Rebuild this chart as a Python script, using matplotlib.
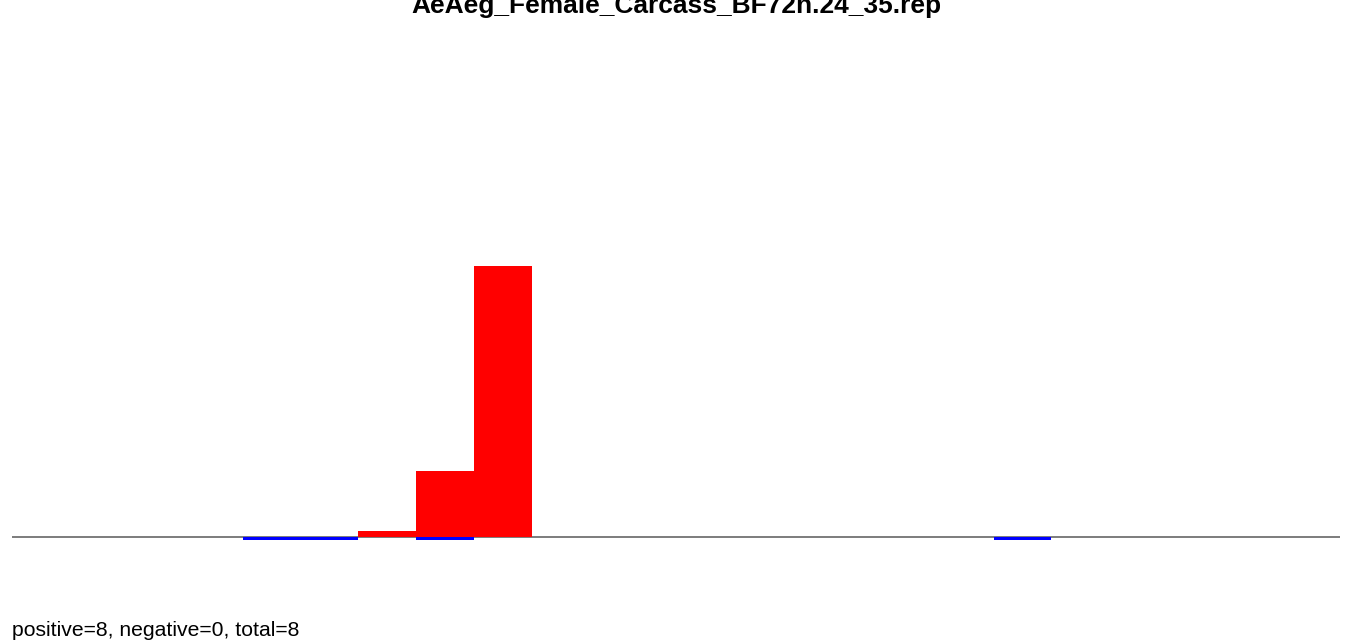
import matplotlib
matplotlib.use("Agg")
import matplotlib.pyplot as plt
import numpy as np

plt.rcParams['font.family'] = ['Liberation Sans', 'DejaVu Sans']

# histogram bins (23 bins along the axis)
n_bins = 23
pos_bins = [6, 7, 8]
pos_values = [0.022, 0.244, 1.0]
neg_bins = [4, 5, 7, 17]
neg_values = [-0.011, -0.011, -0.011, -0.011]

title = "AeAeg_Female_Carcass_BF72h.24_35.rep"
summary = "positive=8, negative=0, total=8"

W, H = 1349, 641
fig = plt.figure(figsize=(W / 100, H / 100), dpi=100)

# axes placed in pixel terms: x 12..1340, y 60..580 (top..bottom)
left, right, top, bottom = 12, 1340, 60, 580
ax = fig.add_axes([left / W, 1 - bottom / H, (right - left) / W, (bottom - top) / H])

scale = 271.0  # pixels per unit of value
base = 537
ax.set_xlim(0, n_bins)
ax.set_ylim(-(bottom - base) / scale, (base - top) / scale)

ax.axhline(0, color='#666666', lw=1.2, zorder=1)
ax.bar(pos_bins, pos_values, width=1.0, align='edge', color='#ff0000', zorder=2)
ax.bar(neg_bins, neg_values, width=1.0, align='edge', color='#0000ff', zorder=2)

ax.axis('off')

fig.text(676 / W, 1 - 13 / H, title, ha='center', va='baseline', fontsize=19, fontweight='bold')
fig.text(12 / W, 1 - 636 / H, summary, ha='left', va='baseline', fontsize=15.2)

fig.savefig("out.png", dpi=100)
